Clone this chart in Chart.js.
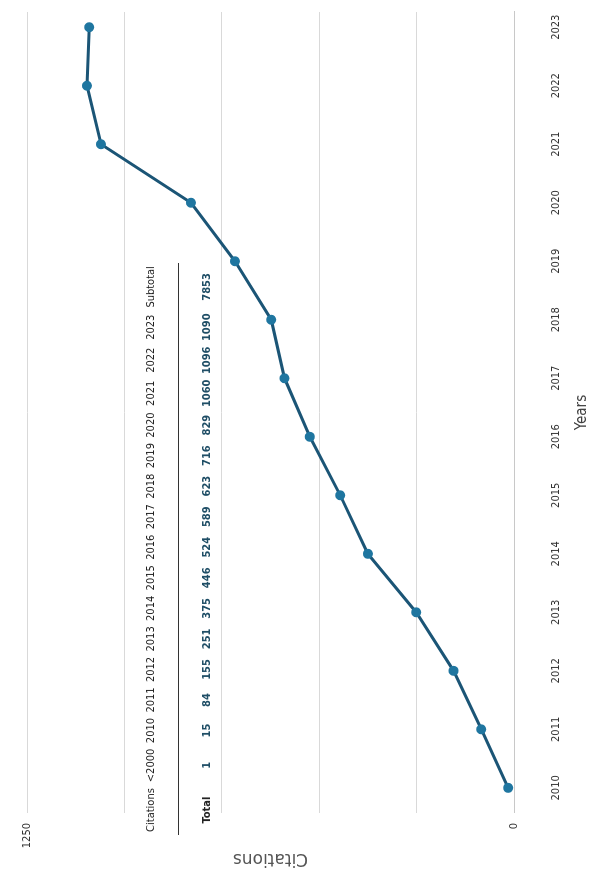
<!DOCTYPE html>
<html>
<head>
<meta charset="utf-8">
<script src="https://cdn.jsdelivr.net/npm/chart.js@4.4.1/dist/chart.umd.min.js"></script>
<style>
  html, body { margin: 0; padding: 0; background: #fff; overflow: hidden; }
  body { width: 595px; height: 873px; position: relative; }
  /* the whole chart is laid out landscape, then turned onto the page */
  #sheet {
    position: absolute; left: 0; top: 0;
    width: 873px; height: 595px;
    transform-origin: 0 0;
    transform: translate(0, 873px) rotate(-90deg);
  }
  #sheet canvas { position: absolute; left: 0; top: 0; }
  #summary {
    position: absolute; left: 38px; top: 137px; width: 572px;
    border-collapse: collapse;
    font-family: "Liberation Sans Narrow", "DejaVu Sans Condensed", sans-serif;
    font-size: 11px; color: #222;
  }
  #summary td { text-align: center; padding: 0 2px; white-space: nowrap; }
  #summary tr.head td {
    line-height: 28px; padding-bottom: 13px;
    border-bottom: 1.5px solid #333;
  }
  #summary tr.vals td {
    line-height: 28px; padding-top: 14px; font-weight: bold; color: #1f4e66;
  }
  #summary tr.vals td:first-child { color: #222; }
</style>
</head>
<body>
<div id="sheet">
  <canvas id="citeChart" width="873" height="595"></canvas>
  <table id="summary"></table>
</div>
<script>
// citations per year
const years = [2010, 2011, 2012, 2013, 2014, 2015, 2016, 2017, 2018, 2019, 2020, 2021, 2022, 2023];
const citations = [15, 84, 155, 251, 375, 446, 524, 589, 623, 716, 829, 1060, 1096, 1090];
const before2000 = 1;
const subtotal = 7853;
const valueTicks = [0, 1250];

// summary table above the line
const table = document.getElementById('summary');
const headRow = table.insertRow();
headRow.className = 'head';
const valRow = table.insertRow();
valRow.className = 'vals';
const headers = ['Citations', '<2000'].concat(years.map(String), ['Subtotal']);
const values = ['Total', before2000].concat(citations, [subtotal]);
headers.forEach((h, i) => {
  headRow.insertCell().textContent = h;
  valRow.insertCell().textContent = values[i];
});

const narrow = '"Liberation Sans Narrow", "DejaVu Sans Condensed", sans-serif';

const ctx = document.getElementById('citeChart').getContext('2d');
new Chart(ctx, {
  type: 'line',
  data: {
    datasets: [{
      data: years.map((y, i) => ({ x: y, y: citations[i] })),
      borderColor: '#1b5576',
      borderWidth: 3,
      pointBackgroundColor: '#1f76a0',
      pointBorderColor: '#1f76a0',
      pointRadius: 3.5,
      tension: 0
    }]
  },
  options: {
    responsive: false,
    animation: false,
    layout: { padding: { left: 0, right: 12, top: 27, bottom: 0 } },
    plugins: { legend: { display: false }, tooltip: { enabled: false } },
    scales: {
      x: {
        type: 'linear',
        min: 2009.57,
        max: 2023.26,
        afterBuildTicks: axis => { axis.ticks = years.map(v => ({ value: v })); },
        afterFit: axis => {
          axis.height = 81;
          // tick padding would otherwise widen the side margins
          axis.paddingLeft = 0;
          axis.paddingRight = 0;
        },
        grid: { display: false },
        border: { color: '#c8c8c8', width: 1 },
        ticks: {
          color: '#333',
          font: { family: narrow, size: 11 },
          maxRotation: 0,
          padding: 28,
          callback: v => String(v)
        },
        title: {
          display: true,
          text: 'Years',
          color: '#404040',
          font: { family: narrow, size: 15 },
          padding: { top: 2 }
        }
      },
      y: {
        min: 0,
        max: 1250,
        afterBuildTicks: axis => {
          axis.ticks = [0, 250, 500, 750, 1000, 1250].map(v => ({ value: v }));
        },
        afterFit: axis => { axis.width = 60; },
        grid: { color: '#d9d9d9', lineWidth: 1, drawTicks: false },
        border: { display: false },
        ticks: {
          color: '#333',
          font: { family: narrow, size: 11 },
          padding: 10,
          callback: v => valueTicks.includes(v) ? String(v) : ''
        },
        title: {
          display: true,
          text: 'Citations',
          color: '#555',
          font: { family: 'DejaVu Sans', size: 17 },
          padding: { bottom: 2 }
        }
      }
    }
  }
});
</script>
</body>
</html>
